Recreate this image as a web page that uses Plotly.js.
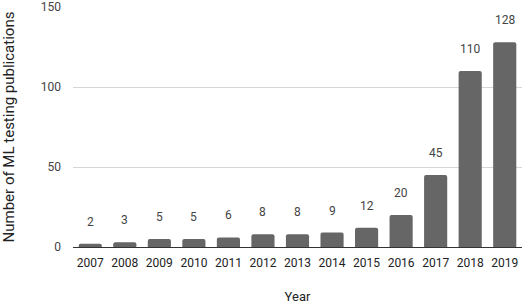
<!DOCTYPE html>
<html><head><meta charset="utf-8">
<script src="https://cdn.plot.ly/plotly-3.0.1.min.js"></script>
<style>html,body{margin:0;padding:0;background:#fff}#c{width:530px;height:306px}</style>
</head><body><div id="c"></div>
<script>
const years = ['2007','2008','2009','2010','2011','2012','2013','2014','2015','2016','2017','2018','2019'];
const counts = [2,3,5,5,6,8,8,9,12,20,45,110,128];
const yTicks = [0,50,100,150];

const trace = {
  type: 'bar', x: years, y: counts,
  marker: {color: '#666666', cornerradius: 2},
  hoverinfo: 'x+y'
};
const annotations = years.map((yr, i) => ({
  x: i, y: counts[i], text: String(counts[i]), showarrow: false,
  xref: 'x', yref: 'y',
  yanchor: 'bottom', yshift: 13,
  font: {family: 'Roboto, sans-serif', size: 12, color: '#444'}
}));
const layout = {
  width: 530, height: 306,
  margin: {l: 73, r: 8, t: 7, b: 59},
  paper_bgcolor: '#fff', plot_bgcolor: '#fff',
  font: {family: 'Roboto, sans-serif', size: 12, color: '#444'},
  bargap: 0.33,
  showlegend: false,
  xaxis: {
    type: 'category', range: [-0.5, years.length - 0.5], autorange: false,
    tickfont: {size: 12, color: '#222'},
    showgrid: false, showline: false, ticks: '', ticklabelstandoff: 7,
    title: {text: 'Year', font: {size: 13, color: '#222'}, standoff: 22}
  },
  yaxis: {
    range: [0, 150], autorange: false, tickvals: yTicks, ticktext: yTicks.map(String),
    tickfont: {size: 12, color: '#444'}, ticklabelstandoff: 11,
    gridcolor: '#d6d6d6', zeroline: true, zerolinecolor: '#333', zerolinewidth: 1,
    ticks: '', ticklen: 0,
    title: {text: 'Number of ML testing publications', font: {size: 15, color: '#222'}, standoff: 27}
  },
  annotations: annotations
};
Plotly.newPlot('c', [trace], layout, {displayModeBar: false, staticPlot: true});
</script></body></html>
